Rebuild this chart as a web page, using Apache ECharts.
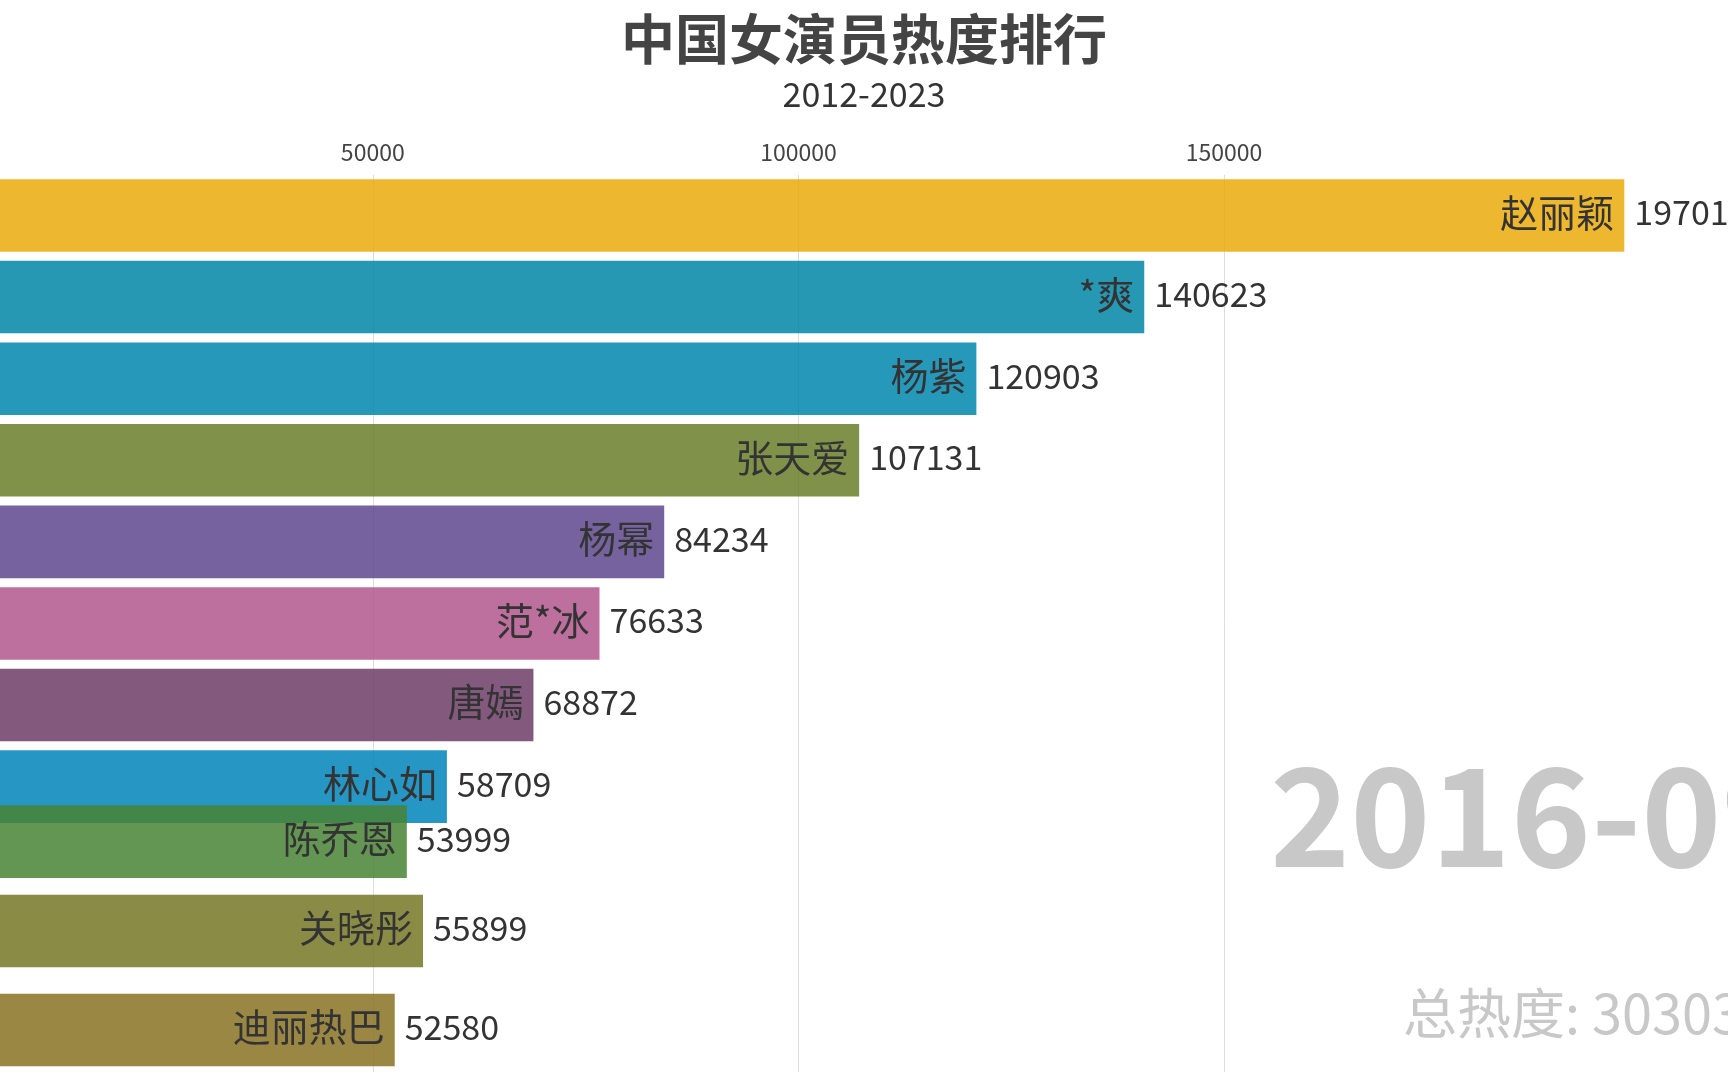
<!DOCTYPE html>
<html>
<head>
<meta charset="utf-8">
<script src="https://cdn.jsdelivr.net/npm/echarts@6/dist/echarts.min.js"></script>
<style>
html,body{margin:0;padding:0;background:#ffffff;overflow:hidden;}
#chart{width:1728px;height:1080px;}
</style>
</head>
<body>
<div id="chart"></div>
<script>
const titleText = '中国女演员热度排行';
const subtitleText = '2012-2023';
const names = ['赵丽颖', '*爽', '杨紫', '张天爱', '杨幂', '范*冰', '唐嫣', '林心如', '陈乔恩', '关晓彤', '迪丽热巴'];
const values = [197012, 140623, 120903, 107131, 84234, 76633, 68872, 58709, 53999, 55899, 52580];
// rank position of each bar in this (mid-animation) frame
const rankPositions = [1, 2, 3, 4, 5, 6, 7, 8, 8.674, 9.769, 10.983];
const periodLabel = '2016-09';
const totalLabel = '总热度: 3030358';
// the frame is cropped: the visible left edge corresponds to this axis value
const axisVisibleMin = 6211;
const tickStep = 50000;

// ---- styles ----
const barColors = ['#EAAC0A', '#0086A7', '#0086AE', '#6A7F2A', '#5E468D', '#B1568D', '#6D3C67', '#0084BA', '#488434', '#757824', '#8A7223'];
const FONT = '"Noto Sans CJK SC", "Noto Sans", sans-serif';

const chart = echarts.init(document.getElementById('chart'), null, {renderer: 'canvas'});

const seriesData = names.map((n, i) => [values[i], rankPositions[i], i]);

const option = {
  backgroundColor: '#ffffff',
  animation: false,
  textStyle: {fontFamily: FONT},
  title: {
    text: titleText,
    subtext: subtitleText,
    left: 'center',
    top: 12,
    itemGap: 11,
    padding: 0,
    textStyle: {fontSize: 54, fontWeight: 'bold', color: '#444444', fontFamily: FONT},
    subtextStyle: {fontSize: 34, color: '#333333', fontFamily: FONT}
  },
  grid: {left: 0, right: 103.7, top: 174.7, bottom: 7.8, containLabel: false},
  xAxis: {
    type: 'value',
    position: 'top',
    min: axisVisibleMin,
    max: function (e) { return e.max; },
    splitNumber: 4,
    minInterval: tickStep,
    maxInterval: tickStep,
    axisLine: {show: false},
    axisTick: {show: false},
    axisLabel: {
      show: true, showMinLabel: false, showMaxLabel: false,
      fontSize: 23, color: '#444444', margin: 11, fontFamily: FONT,
      formatter: function (v) { return String(v); }
    },
    splitLine: {
      show: true, showMinLine: false, showMaxLine: false,
      lineStyle: {color: '#dddddd', width: 1}
    }
  },
  yAxis: {
    type: 'value',
    inverse: true,
    min: 0.5,
    max: 11.5,
    show: false,
    splitLine: {show: false}
  },
  series: [{
    type: 'custom',
    clip: false,
    encode: {x: 0, y: 1},
    data: seriesData,
    renderItem: function (params, api) {
      const v = api.value(0);
      const r = api.value(1);
      const i = api.value(2);
      const start = api.coord([axisVisibleMin, r]);
      const end = api.coord([v, r]);
      const h = api.size([0, 1])[1] * 0.889;
      return {
        type: 'group',
        children: [
          {
            type: 'rect',
            shape: {x: start[0], y: start[1] - h / 2, width: end[0] - start[0], height: h},
            style: {fill: barColors[i], opacity: 0.85}
          },
          {
            type: 'text',
            x: end[0] - 10,
            y: end[1] - 3,
            style: {
              text: names[i], fill: '#333333', fontSize: 38, fontFamily: FONT,
              align: 'right', verticalAlign: 'middle'
            }
          },
          {
            type: 'text',
            x: end[0] + 10,
            y: end[1] - 3,
            style: {
              text: String(v), fill: '#333333', fontSize: 34, fontFamily: FONT,
              align: 'left', verticalAlign: 'middle'
            }
          }
        ]
      };
    }
  }],
  graphic: [
    {
      type: 'text',
      x: 1270,
      y: 815,
      z: 0,
      style: {
        text: periodLabel, fill: '#c8c8c8', fontSize: 136, fontWeight: 'bold',
        fontFamily: FONT, align: 'left', verticalAlign: 'middle'
      }
    },
    {
      type: 'text',
      x: 1403,
      y: 1013,
      z: 0,
      style: {
        text: totalLabel, fill: '#c8c8c8', fontSize: 54,
        fontFamily: FONT, align: 'left', verticalAlign: 'middle'
      }
    }
  ]
};

chart.setOption(option);
</script>
</body>
</html>
